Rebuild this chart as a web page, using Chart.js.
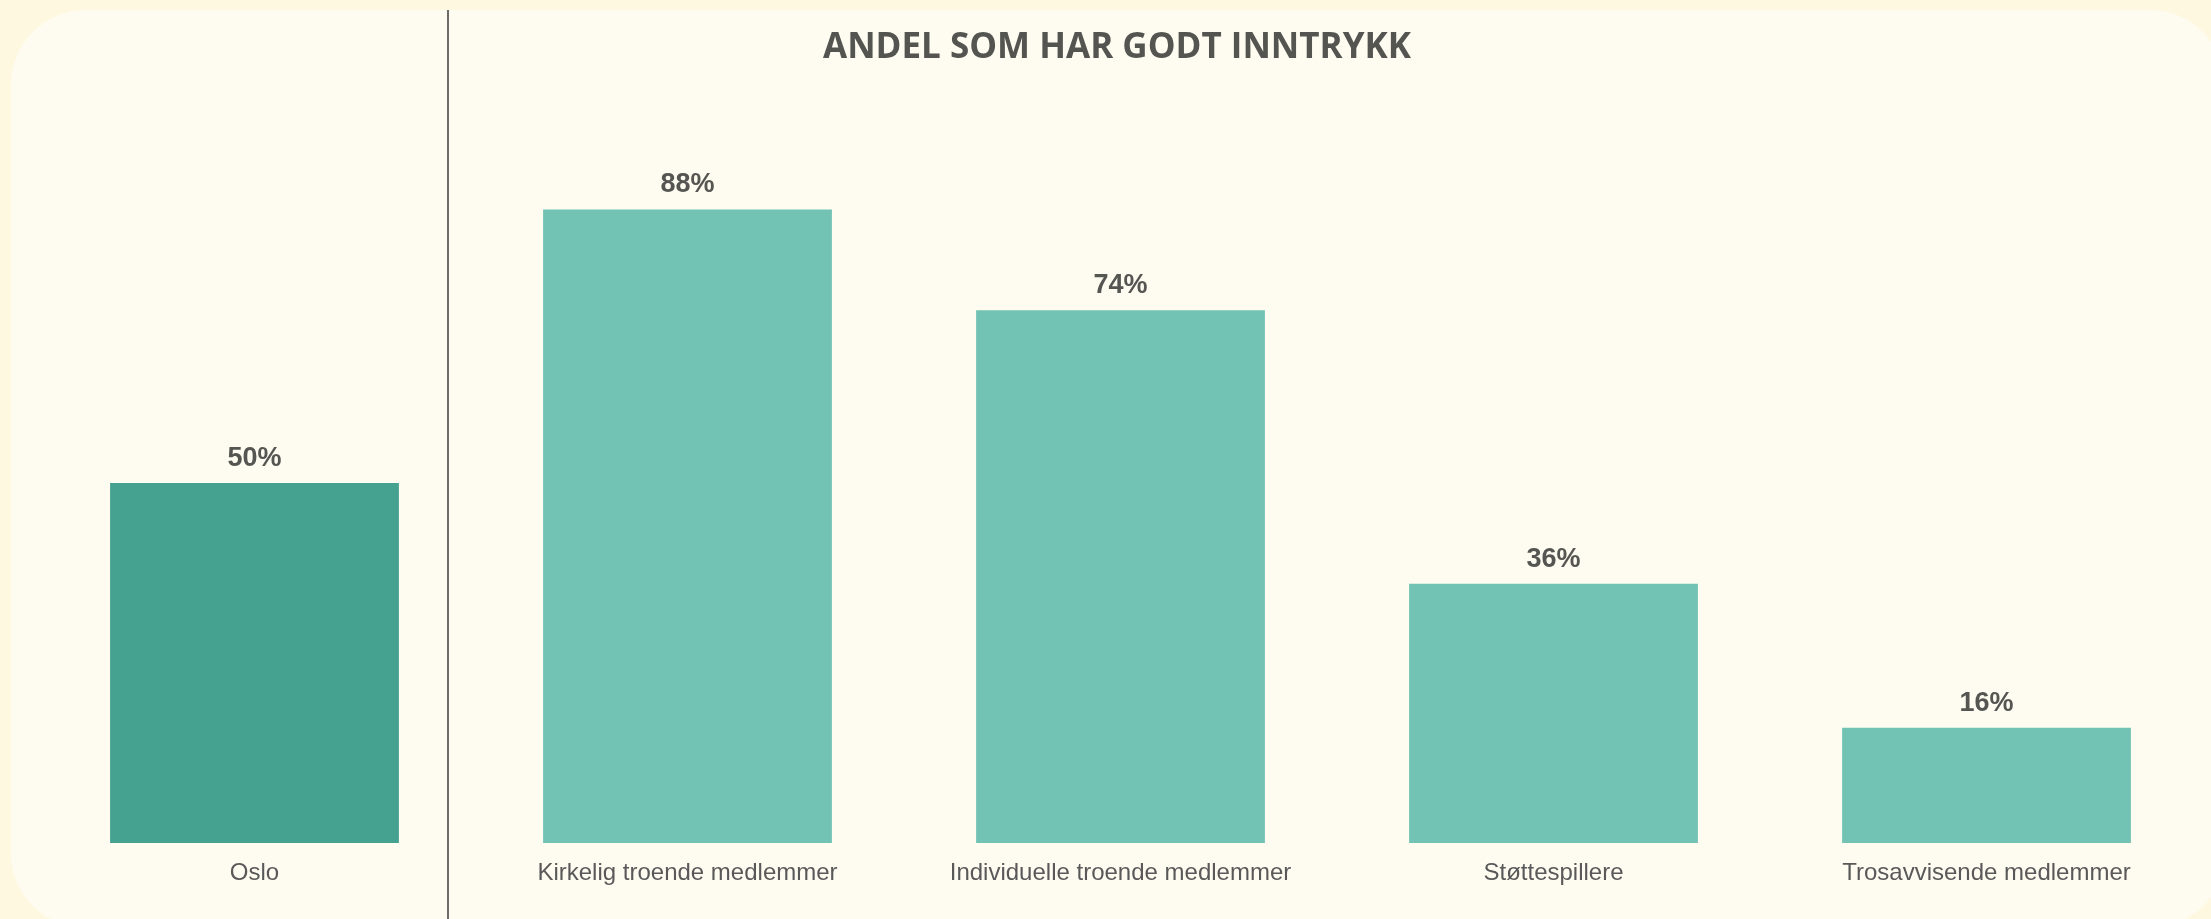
<!DOCTYPE html>
<html>
<head>
<meta charset="utf-8">
<script src="https://cdn.jsdelivr.net/npm/chart.js@4.4.1/dist/chart.umd.min.js"></script>
<style>
  html, body { margin: 0; padding: 0; width: 2211px; height: 919px; overflow: hidden; background: #FFF8E1; }
  #panel { position: absolute; left: 11px; top: 10px; width: 2214px; height: 918px; border-radius: 75px; background: #FEFCF0; }
  #wrap { position: absolute; left: 0; top: 0; width: 2211px; height: 919px; }
</style>
</head>
<body>
<div id="panel"></div>
<div id="wrap"><canvas id="c" width="2211" height="919"></canvas></div>
<script>
const categories = ["Oslo", "Kirkelig troende medlemmer", "Individuelle troende medlemmer", "Støttespillere", "Trosavvisende medlemmer"];
const shareGoodImpression = [50, 88, 74, 36, 16];
const chartTitle = "ANDEL SOM HAR GODT INNTRYKK";

const DARK = "#46A290";
const LIGHT = "#72C3B4";
const TEXT = "#555552";

const decorPlugin = {
  id: "decor",
  afterDatasetsDraw(chart) {
    const ctx = chart.ctx;
    ctx.save();
    // separator line between Oslo and the groups
    ctx.strokeStyle = "#6A6A66";
    ctx.lineWidth = 2;
    ctx.beginPath();
    ctx.moveTo(448, 10);
    ctx.lineTo(448, 919);
    ctx.stroke();
    // value labels
    const meta = chart.getDatasetMeta(0);
    ctx.fillStyle = TEXT;
    ctx.font = "bold 27px 'Liberation Sans', Arial, sans-serif";
    ctx.textAlign = "center";
    ctx.textBaseline = "alphabetic";
    meta.data.forEach((bar, i) => {
      ctx.fillText(shareGoodImpression[i] + "%", bar.x, bar.y - 17);
    });
    // title
    ctx.font = "bold 35px 'Open Sans', 'Liberation Sans', sans-serif";
    ctx.textAlign = "center";
    ctx.fillStyle = "#545550";
    ctx.fillText(chartTitle, 1117, 58);
    ctx.restore();
  }
};

new Chart(document.getElementById("c"), {
  type: "bar",
  data: {
    labels: categories,
    datasets: [{
      data: shareGoodImpression,
      backgroundColor: categories.map((_, i) => i === 0 ? DARK : LIGHT),
      borderWidth: 0,
      barPercentage: 0.667,
      categoryPercentage: 1.0
    }]
  },
  options: {
    responsive: false,
    animation: false,
    devicePixelRatio: 1,
    layout: { padding: { left: 38, right: 8, top: 123, bottom: 0 } },
    plugins: { legend: { display: false }, tooltip: { enabled: false }, title: { display: false } },
    scales: {
      x: {
        grid: { display: false, drawTicks: false },
        border: { display: false },
        ticks: {
          color: "#595959",
          font: { family: "'Liberation Sans', Arial, sans-serif", size: 24 },
          padding: 16,
          maxRotation: 0,
          autoSkip: false
        },
        afterFit(scale) { scale.height = 76; }
      },
      y: { display: false, min: 0, max: 100 }
    }
  },
  plugins: [decorPlugin]
});
</script>
</body>
</html>
